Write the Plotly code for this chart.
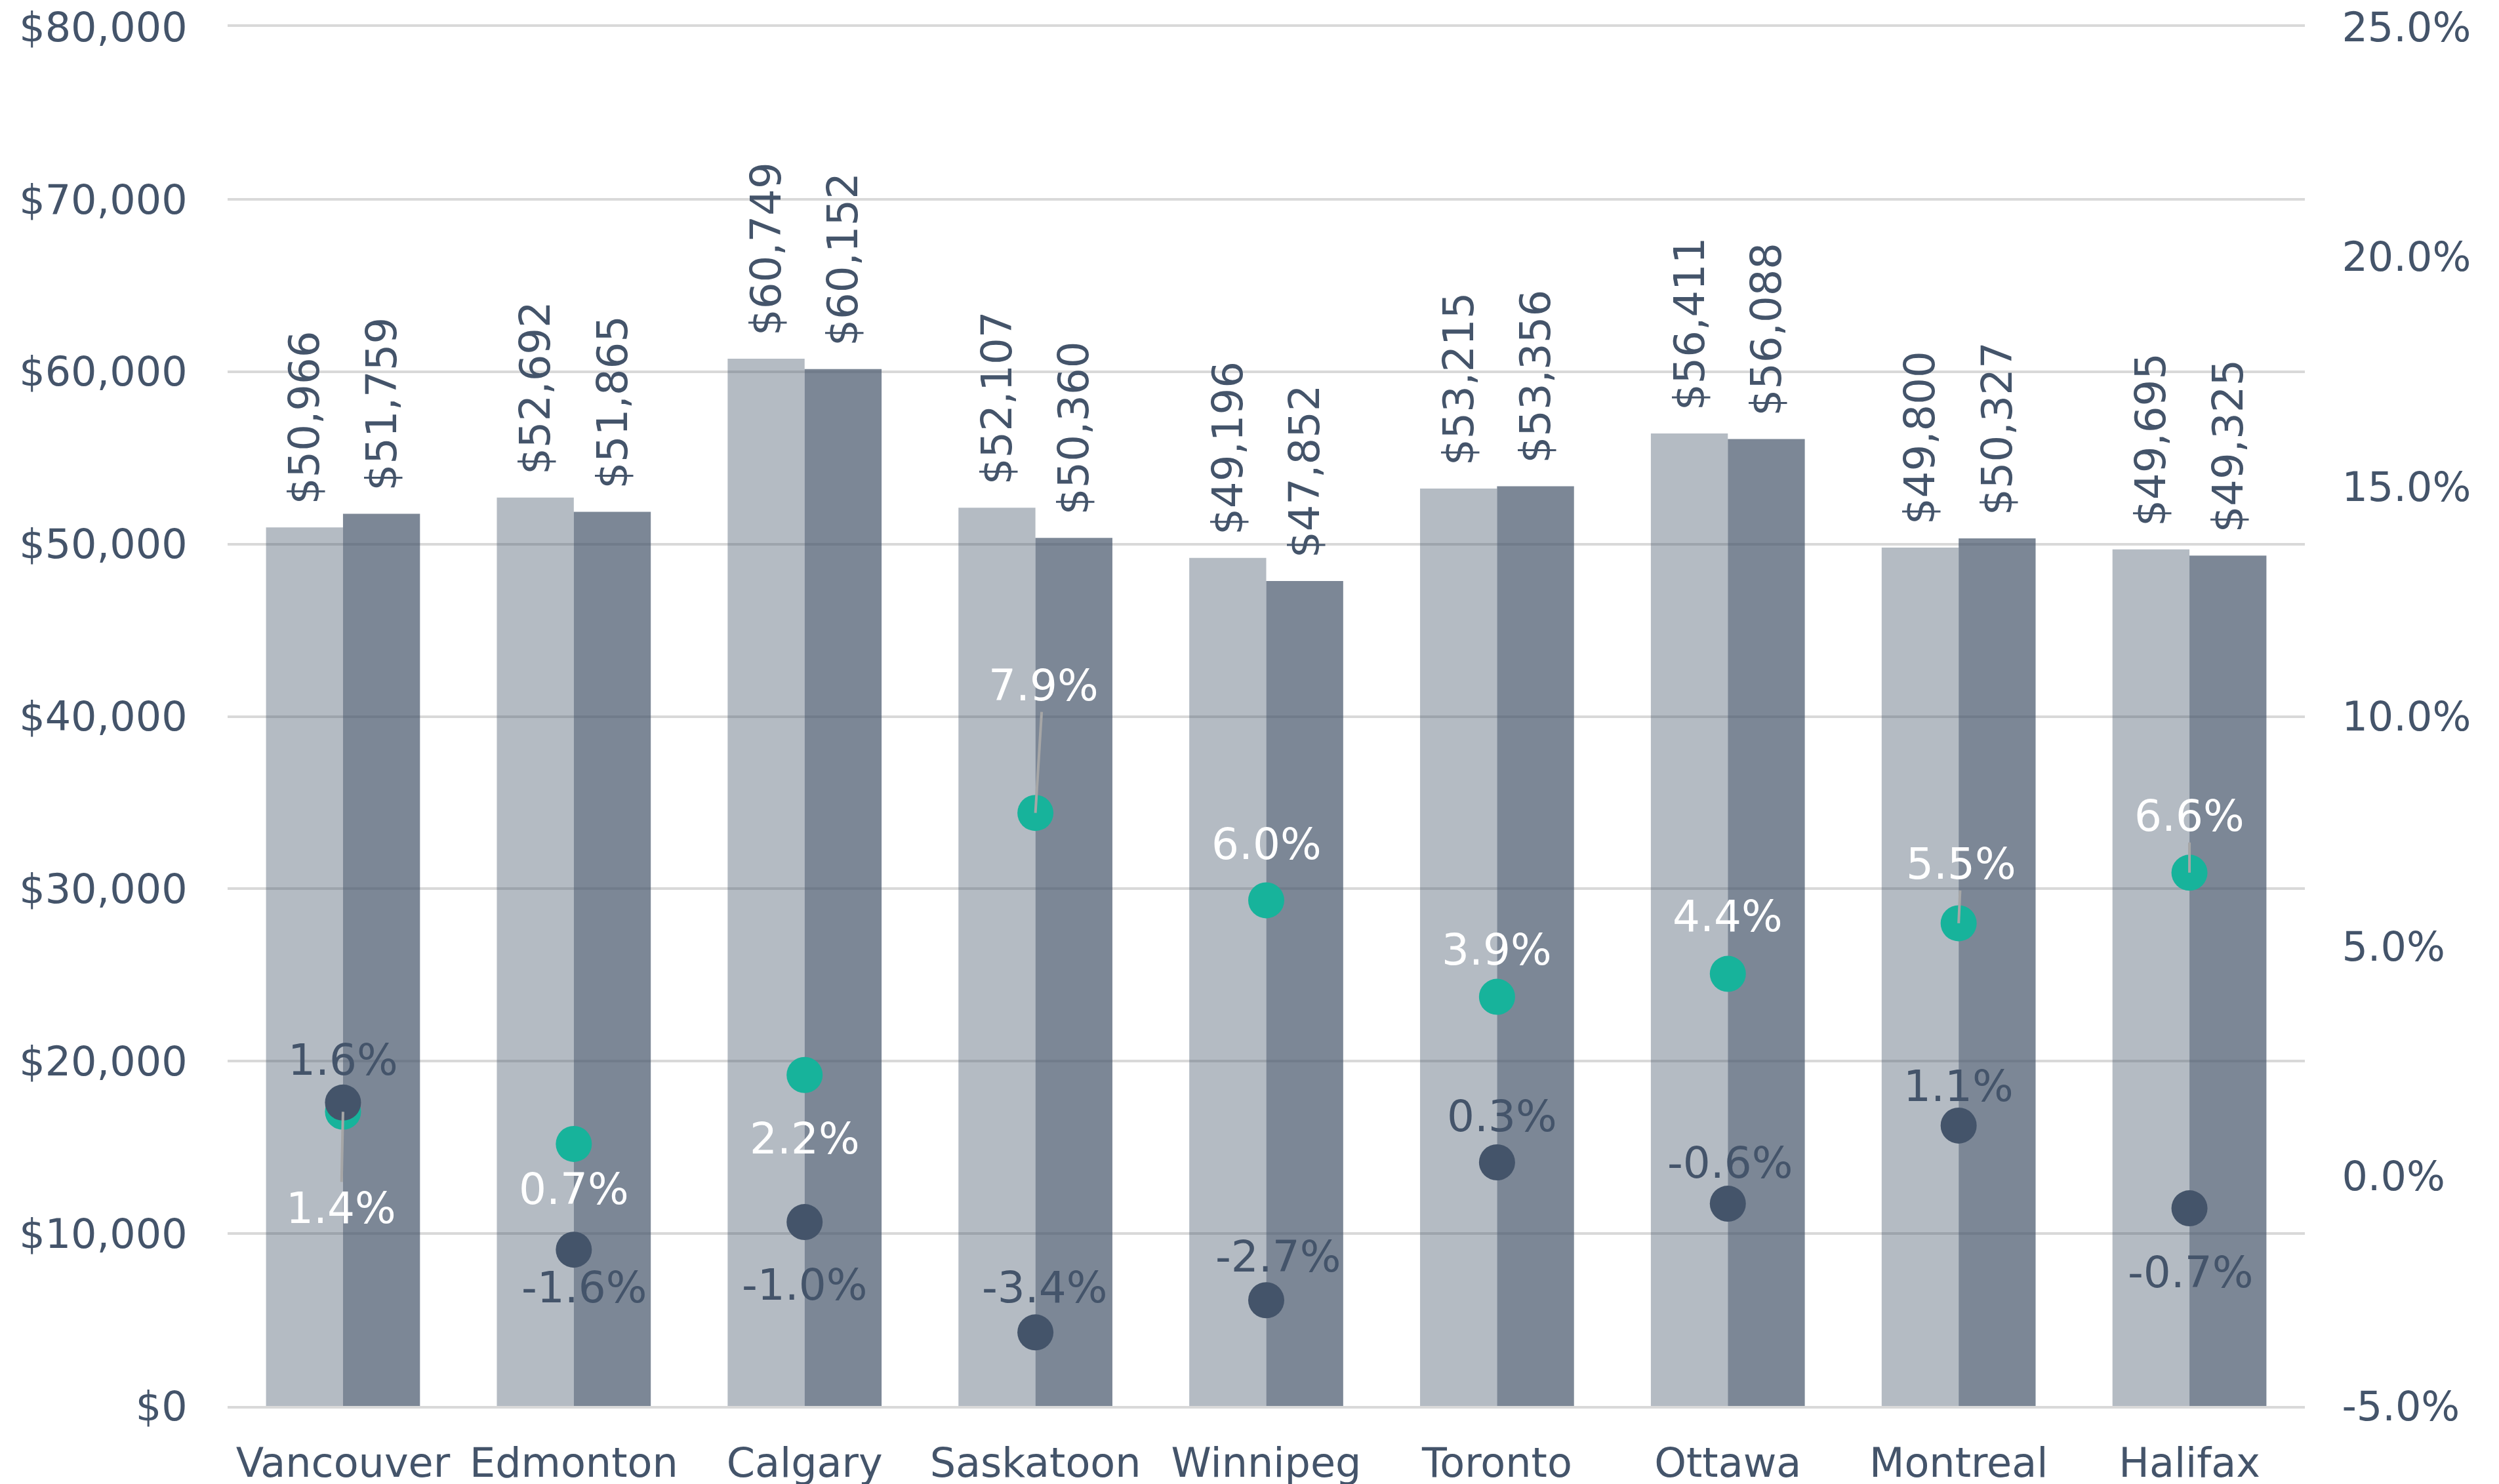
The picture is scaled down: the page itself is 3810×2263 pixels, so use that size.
import plotly.graph_objects as go

# ---------------- data ----------------
cities = ["Vancouver", "Edmonton", "Calgary", "Saskatoon", "Winnipeg",
          "Toronto", "Ottawa", "Montreal", "Halifax"]
income_a = [50966, 52692, 60749, 52107, 49196, 53215, 56411, 49800, 49695]
income_b = [51759, 51865, 60152, 50360, 47852, 53356, 56088, 50327, 49325]
growth_teal = [1.4, 0.7, 2.2, 7.9, 6.0, 3.9, 4.4, 5.5, 6.6]
growth_dark = [1.6, -1.6, -1.0, -3.4, -2.7, 0.3, -0.6, 1.1, -0.7]

left_ticks = [0, 10000, 20000, 30000, 40000, 50000, 60000, 70000, 80000]
right_ticks = [-5, 0, 5, 10, 15, 20, 25]

# ---------------- styling (label placement in px) ----------------
teal_shift = [-147, -69, -97, 194, 85, 72, 88, 90, 86]
teal_xshift = [-3, 0, 0, 12, 0, 0, 0, 4, 0]
teal_leader = [True, False, False, True, False, False, False, True, True]
dark_shift = [65, -58, -96, 68, 66, 70, 62, 60, -98]
dark_xshift = [0, 16, 0, 14, 18, 8, 4, 0, 2]

SLATE = "#44546a"
TEAL = "#17b39b"
FONT = "DejaVu Sans"
FS = 62
FS_BAR = 64
FS_PT = 66

fig = go.Figure()

for vals, alpha in ((income_a, 0.40), (income_b, 0.70)):
    fig.add_trace(go.Bar(
        x=cities, y=vals,
        marker=dict(color=f"rgba(68,84,106,{alpha})", line=dict(width=0)),
        texttemplate="\u2002$%{y:,.0f}", textposition="outside", textangle=-90,
        textfont=dict(family=FONT, size=FS_BAR, color=SLATE),
        constraintext="none", cliponaxis=False, showlegend=False,
    ))

fig.add_trace(go.Scatter(
    x=cities, y=growth_teal, yaxis="y2", mode="markers",
    marker=dict(color=TEAL, size=55, line=dict(width=0)),
    showlegend=False, cliponaxis=False,
))
fig.add_trace(go.Scatter(
    x=cities, y=growth_dark, yaxis="y2", mode="markers",
    marker=dict(color=SLATE, size=55, line=dict(width=0)),
    showlegend=False, cliponaxis=False,
))

annotations = []
for i, c in enumerate(cities):
    txt = f"{growth_teal[i]:.1f}%"
    if teal_leader[i]:
        annotations.append(dict(
            x=c, y=growth_teal[i], xref="x", yref="y2", text=txt,
            showarrow=True, arrowhead=0, arrowwidth=4, arrowcolor="#a6a6a6",
            ax=teal_xshift[i], ay=-teal_shift[i], standoff=0,
            font=dict(family=FONT, size=FS_PT, color="white"),
        ))
    else:
        annotations.append(dict(
            x=c, y=growth_teal[i], xref="x", yref="y2", text=txt,
            showarrow=False, yshift=teal_shift[i], xshift=teal_xshift[i],
            font=dict(family=FONT, size=FS_PT, color="white"),
        ))
    annotations.append(dict(
        x=c, y=growth_dark[i], xref="x", yref="y2",
        text=f"{growth_dark[i]:.1f}%",
        showarrow=False, yshift=dark_shift[i], xshift=dark_xshift[i],
        font=dict(family=FONT, size=FS_PT, color=SLATE),
    ))

fig.update_layout(
    width=3810, height=2263,
    margin=dict(l=339, r=304, t=33, b=127, pad=0, autoexpand=False),
    paper_bgcolor="white", plot_bgcolor="white",
    barmode="group", bargap=0.333, bargroupgap=0,
    font=dict(family=FONT, size=FS, color=SLATE),
    annotations=annotations,
    xaxis=dict(
        type="category", range=[-0.5, 8.5], automargin=False,
        showgrid=False, zeroline=False,
        showline=True, mirror=True, linecolor="#d9d9d9", linewidth=4,
        ticks="outside", ticklen=30, tickcolor="rgba(0,0,0,0)",
        tickfont=dict(family=FONT, size=FS, color=SLATE),
        ticklabeloverflow="allow",
    ),
    yaxis=dict(
        range=[0, 80000], tickvals=left_ticks, automargin=False,
        ticktext=[f"${v:,.0f}" for v in left_ticks],
        showgrid=True, gridcolor="#d9d9d9", gridwidth=4,
        zeroline=False, showline=False,
        ticks="outside", ticklen=48, tickcolor="rgba(0,0,0,0)",
        tickfont=dict(family=FONT, size=FS, color=SLATE),
        ticklabeloverflow="allow",
    ),
    yaxis2=dict(
        overlaying="y", side="right", range=[-5, 25], automargin=False,
        tickvals=right_ticks, ticktext=[f"{v:.1f}%" for v in right_ticks],
        showgrid=False, zeroline=False, showline=False,
        ticks="outside", ticklen=43, tickcolor="rgba(0,0,0,0)",
        tickfont=dict(family=FONT, size=FS, color=SLATE),
        ticklabeloverflow="allow",
    ),
)

fig.write_html("out.html")
